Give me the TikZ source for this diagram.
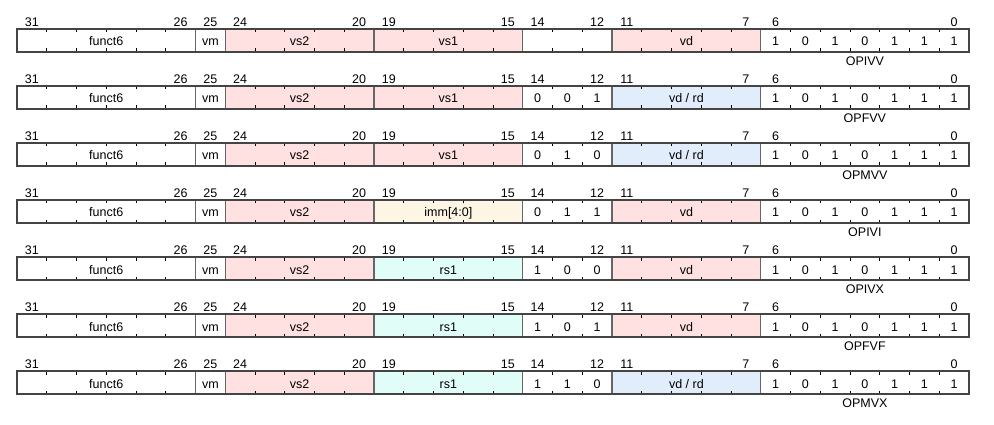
\documentclass[tikz,border=0pt]{standalone}
\usepackage{fontspec}
\setmainfont{Liberation Sans}
\definecolor{pk}{HTML}{FFE1E1}
\definecolor{bl}{HTML}{E1EDFA}
\definecolor{yl}{HTML}{FDF6E4}
\definecolor{cy}{HTML}{E1FDF7}
\definecolor{linec}{HTML}{444444}
\definecolor{sepc}{HTML}{666666}
\tikzset{
  tick/.style={draw=black, line width=0.9pt},
  sep/.style={draw=sepc, line width=1.2pt},
  frame/.style={draw=linec, line width=1.2pt},
  lbl/.style={anchor=base, inner sep=0pt, text=black},
}
\newcommand\bw{29.75}
\newcommand\LL{17}
\newcommand\bitrow[9]{%
  \pgfmathsetmacro\T{29+57*#1}%
  \pgfmathsetmacro\B{\T+23}%
  \fill[pk] ({\LL+7*\bw},\T) rectangle ({\LL+12*\bw},\B);
  \fill[#2] ({\LL+12*\bw},\T) rectangle ({\LL+17*\bw},\B);
  \fill[#7] ({\LL+20*\bw},\T) rectangle ({\LL+25*\bw},\B);
  \foreach \k in {1,...,31} {
    \draw[tick] ({\LL+\k*\bw},\T) -- ++(0,3.5);
    \draw[tick] ({\LL+\k*\bw},\B) -- ++(0,-3.5);
  }
  \foreach \k in {6,7,12,17,20,25}
    \draw[sep] ({\LL+\k*\bw},\T) -- ({\LL+\k*\bw},\B);
  \draw[frame] (\LL,\T) rectangle ({\LL+32*\bw},\B);
  \foreach \b in {31,26,25,24,20,19,15,14,12,11,7,6,0}
    \node[lbl] (r#1n\b) at ({\LL+(31.5-\b)*\bw},\T-2.6) {\b};
  \node[lbl] (r#1f6) at ({\LL+3*\bw},\T+17) {funct6};
  \node[lbl] (r#1vm) at ({\LL+6.5*\bw},\T+17) {vm};
  \node[lbl] (r#1vs2) at ({\LL+9.5*\bw},\T+17) {vs2};
  \node[lbl] (r#1a) at ({\LL+14.5*\bw},\T+17) {#3};
  \node[lbl] (r#1d14) at ({\LL+17.5*\bw},\T+17) {#4};
  \node[lbl] (r#1d13) at ({\LL+18.5*\bw},\T+17) {#5};
  \node[lbl] (r#1d12) at ({\LL+19.5*\bw},\T+17) {#6};
  \node[lbl] (r#1b) at ({\LL+22.5*\bw},\T+17) {#8};
  \foreach \d [count=\c from 0] in {1,0,1,0,1,1,1}
    \node[lbl] (r#1op\c) at ({\LL+(25.5+\c)*\bw},\T+17) {\d};
  \node[lbl] (r#1lab) at ({\LL+28.5*\bw},\B+13.4) {#9};
}
\begin{document}
\begin{tikzpicture}[x=1pt,y=-1pt,font=\fontsize{12.5}{14}\selectfont]
\useasboundingbox[fill=white] (0,0) rectangle (994,425);
\bitrow{0}{pk}{vs1}{}{}{}{pk}{vd}{OPIVV}
\bitrow{1}{pk}{vs1}{0}{0}{1}{bl}{vd / rd}{OPFVV}
\bitrow{2}{pk}{vs1}{0}{1}{0}{bl}{vd / rd}{OPMVV}
\bitrow{3}{yl}{imm[4:0]}{0}{1}{1}{pk}{vd}{OPIVI}
\bitrow{4}{cy}{rs1}{1}{0}{0}{pk}{vd}{OPIVX}
\bitrow{5}{cy}{rs1}{1}{0}{1}{pk}{vd}{OPFVF}
\bitrow{6}{cy}{rs1}{1}{1}{0}{bl}{vd / rd}{OPMVX}
\end{tikzpicture}
\end{document}
